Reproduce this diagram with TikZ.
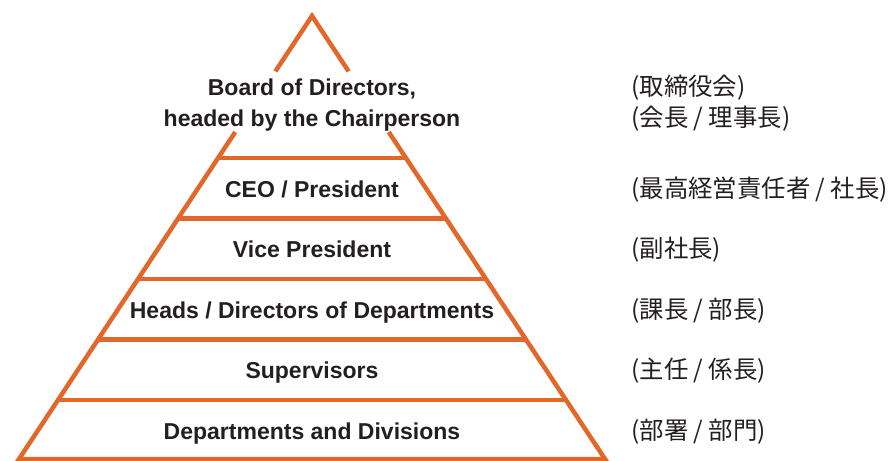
\documentclass[tikz,border=0pt]{standalone}
\usepackage{fontspec}
\setmainfont{Liberation Sans}
\newfontfamily\jpfont{Noto Sans CJK JP}
\usetikzlibrary{calc}
\definecolor{pyrorange}{HTML}{E2672B}
\definecolor{txtgray}{HTML}{231F20}

\begin{document}
\begin{tikzpicture}[x=0.5pt,y=-0.5pt,
		edge/.style={draw=pyrorange, line width=2.25pt},
		level/.style={font=\bfseries\fontsize{11.5}{15.75}\selectfont, text=txtgray, align=center, inner sep=0pt, anchor=base},
		jp/.style={font=\jpfont\fontsize{12.2}{15.75}\selectfont, text=txtgray, anchor=base west, inner sep=0pt}]
		\useasboundingbox (0,0) rectangle (891,461);

		\coordinate (ap) at (312,16);
		\coordinate (bl) at (19,459);
		\coordinate (br) at (605,459);

		% outline, left open behind the top label
		\draw[edge] ($(ap)!0.125!(bl)$) -- (ap) -- ($(ap)!0.125!(br)$);
		\draw[edge] ($(ap)!0.262!(bl)$) -- (bl) -- (br) -- ($(ap)!0.262!(br)$);
		\foreach \t in {0.3205,0.4571,0.5937,0.7302,0.8668}
			\draw[edge] ($(ap)!\t!(bl)$) -- ($(ap)!\t!(br)$);

		\node[level] (brd) at (312,126.5) {Board of Directors,\\headed by the Chairperson};
		\node[level] (ceo) at (312,197) {CEO / President};
		\node[level] (vp) at (312,257.5) {Vice President};
		\node[level] (hod) at (312,318) {Heads / Directors of Departments};
		\node[level] (sup) at (312,378.5) {Supervisors};
		\node[level] (dep) at (312,439) {Departments and Divisions};

		\node[jp] (brdjp) at (631,95) {(取締役会)};
		\node[jp] (chjp) at (631,126.5) {(会長 / 理事長)};
		\node[jp] (ceojp) at (631,197) {(最高経営責任者 / 社長)};
		\node[jp] (vpjp) at (631,257.5) {(副社長)};
		\node[jp] (hodjp) at (631,318) {(課長 / 部長)};
		\node[jp] (supjp) at (631,378.5) {(主任 / 係長)};
		\node[jp] (depjp) at (631,439) {(部署 / 部門)};

	\end{tikzpicture}
\end{document}
